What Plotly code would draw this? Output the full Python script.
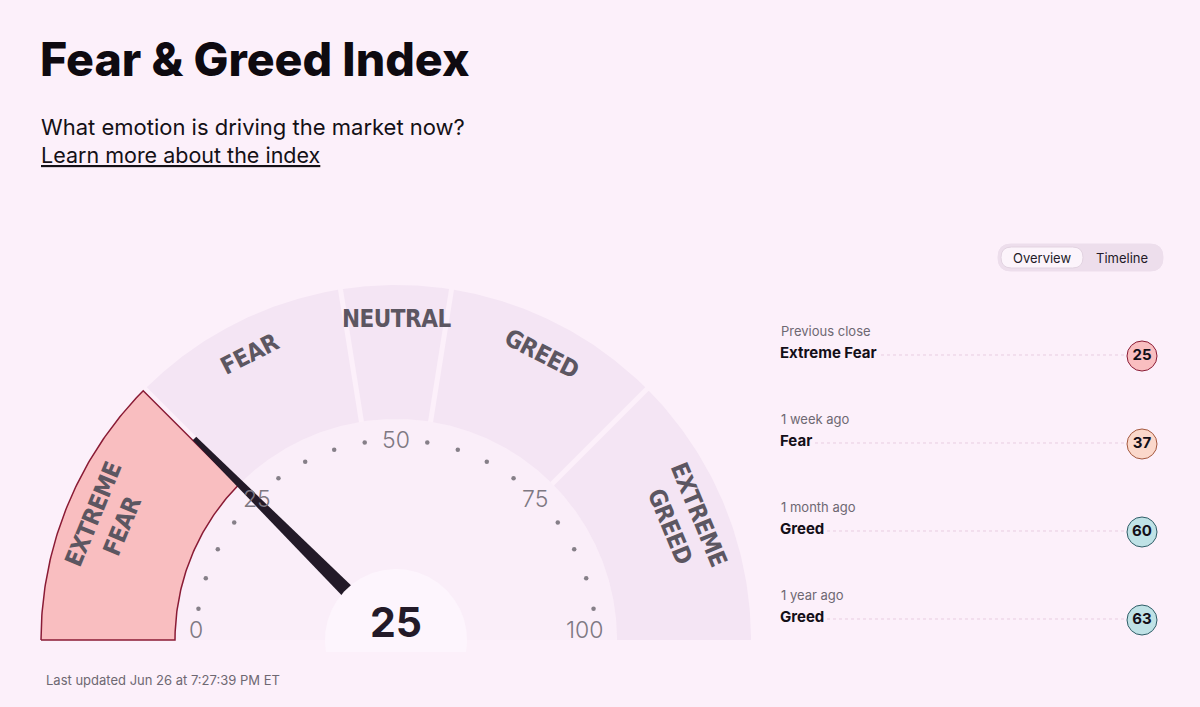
import numpy as np
import plotly.graph_objects as go

# ---------------- data ----------------
current_value = 25
current_rating = "Extreme Fear"
zone_names = ["EXTREME<br>FEAR", "FEAR", "NEUTRAL", "GREED", "EXTREME<br>GREED"]
zone_keys = ["Extreme Fear", "Fear", "Neutral", "Greed", "Extreme Greed"]
zone_bounds = [0, 25, 45, 55, 75, 100]
tick_labels = [0, 25, 50, 75, 100]
history_labels = ["Previous close", "1 week ago", "1 month ago", "1 year ago"]
history_ratings = ["Extreme Fear", "Fear", "Greed", "Greed"]
history_values = [25, 37, 60, 63]
updated_text = "Last updated Jun 26 at 7:27:39 PM ET"

# ---------------- style ----------------
W, H = 1200, 707
CX, CY = 396, 640           # gauge pivot in page pixels
BG = "#FCF0FA"
SEG = "#F4E5F4"
INNER = "#FAEEF9"
CENTER = "#FDF5FD"
DARK = "#231A28"
GRAY = "#7E7882"
R_OUT, R_IN = 355, 221
rating_style = {
    "Extreme Fear": ("#F9BEC0", "#8A1B35"),
    "Fear": ("#FBD8CB", "#A4583E"),
    "Neutral": ("#E5E5E5", "#666666"),
    "Greed": ("#BFE2E6", "#2E5C66"),
    "Extreme Greed": ("#A9DCCB", "#1E5E48"),
}
ZONE_FONT = "DejaVu Sans"


def px(x, y):
    """page pixel -> data coords"""
    return x - CX, CY - y


def ang(v):
    return np.pi * (1 - v / 100.0)


fig = go.Figure()


def poly(xs, ys, fill, line_color=None, lw=0):
    fig.add_trace(go.Scatter(
        x=list(xs), y=list(ys), mode="lines", fill="toself", fillcolor=fill,
        line=dict(color=line_color or fill, width=lw), hoverinfo="skip",
        showlegend=False))


# inner disk
t = np.linspace(0, np.pi, 200)
poly(R_IN * np.cos(t), R_IN * np.sin(t), INNER)

# segments
gap = 2.5
for i, key in enumerate(zone_keys):
    v0, v1 = zone_bounds[i], zone_bounds[i + 1]
    a0, a1 = ang(v0), ang(v1)
    d_out0 = 0 if v0 == 0 else gap / R_OUT
    d_in0 = 0 if v0 == 0 else gap / R_IN
    d_out1 = 0 if v1 == 100 else gap / R_OUT
    d_in1 = 0 if v1 == 100 else gap / R_IN
    to = np.linspace(a0 - d_out0, a1 + d_out1, 80)
    ti = np.linspace(a1 + d_in1, a0 - d_in0, 80)
    xs = np.concatenate([R_OUT * np.cos(to), R_IN * np.cos(ti), [R_OUT * np.cos(to[0])]])
    ys = np.concatenate([R_OUT * np.sin(to), R_IN * np.sin(ti), [R_OUT * np.sin(to[0])]])
    if key == current_rating:
        fc, lc = rating_style[key]
        poly(xs, ys, fc, lc, 1.5)
    else:
        poly(xs, ys, SEG)

# dots every 5 (skip labelled ticks)
dv = [v for v in range(0, 101, 5) if v not in tick_labels]
fig.add_trace(go.Scatter(
    x=[200 * np.cos(ang(v)) for v in dv], y=[200 * np.sin(ang(v)) for v in dv],
    mode="markers", marker=dict(size=4.5, color="#857F88"), hoverinfo="skip",
    showlegend=False))

# needle
a = ang(current_value)
ux, uy = np.cos(a), np.sin(a)
nx, ny = -uy, ux
r_tip, r_base, w_tip, w_base = 285, 60, 2.5, 7.0
needle_x = [r_tip * ux + w_tip * nx, r_tip * ux - w_tip * nx,
            r_base * ux - w_base * nx, r_base * ux + w_base * nx, r_tip * ux + w_tip * nx]
needle_y = [r_tip * uy + w_tip * ny, r_tip * uy - w_tip * ny,
            r_base * uy - w_base * ny, r_base * uy + w_base * ny, r_tip * uy + w_tip * ny]
poly(needle_x, needle_y, DARK)

# center circle (clipped a little below the baseline)
clip = -12
tc = np.linspace(np.arcsin(clip / 71), np.pi - np.arcsin(clip / 71), 200)
poly(71 * np.cos(tc), 71 * np.sin(tc), CENTER)

ann = []
# tick labels
for v in tick_labels:
    c = np.cos(ang(v))
    if abs(c) > 0.9:
        r, xa = 209, ("right" if c > 0 else "left")
    else:
        r, xa = 197, "center"
    x, y = r * c, max(200 * np.sin(ang(v)), 10)
    ann.append(dict(x=x, y=y, xref="x", yref="y", text=str(v), showarrow=False,
                    font=dict(family="Inter", size=23, color=GRAY, weight=300),
                    xanchor=xa, yanchor="middle"))

# zone labels
for i, name in enumerate(zone_names):
    mid = (zone_bounds[i] + zone_bounds[i + 1]) / 2
    am = ang(mid)
    r = 312 if "<br>" in name else 321
    deg = np.degrees(am)
    txt = f"<span style='font-stretch:condensed;letter-spacing:-0.5px'>{name}</span>"
    ann.append(dict(x=r * np.cos(am), y=r * np.sin(am), xref="x", yref="y", text=txt,
                    showarrow=False, textangle=-(deg - 90),
                    font=dict(family=ZONE_FONT, size=24, color="#5C5661", weight=700),
                    xanchor="center", yanchor="middle"))

# center value
ann.append(dict(x=0, y=18, xref="x", yref="y", text=f"<b>{current_value}</b>", showarrow=False,
                font=dict(family="Inter", size=41, color=DARK, weight=800),
                xanchor="center", yanchor="middle"))


def pa(x, y, text, size, color, weight=400, xanchor="left", **kw):
    dx, dy = px(x, y)
    d = dict(x=dx, y=dy, xref="x", yref="y", text=text, showarrow=False,
             font=dict(family="Inter", size=size, color=color, weight=weight),
             xanchor=xanchor, yanchor="middle")
    d.update(kw)
    ann.append(d)


pa(38, 59, "Fear &amp; Greed Index", 46.5, "#0E0A10", 800)
pa(39, 127, "What emotion is driving the market now?", 22, "#141016")
pa(39, 155, "<u>Learn more about the index</u>", 21.5, "#141016")
pa(44, 680, updated_text, 13, "#6E6872")

# toggle
shapes = []


def rrect(x0, y0, x1, y1, r, fill, line=None):
    X0, Y0 = px(x0, y0)
    X1, Y1 = px(x1, y1)
    path = (f"M{X0 + r},{Y0} L{X1 - r},{Y0} Q{X1},{Y0} {X1},{Y0 - r} L{X1},{Y1 + r} "
            f"Q{X1},{Y1} {X1 - r},{Y1} L{X0 + r},{Y1} Q{X0},{Y1} {X0},{Y1 + r} "
            f"L{X0},{Y0 - r} Q{X0},{Y0} {X0 + r},{Y0} Z")
    shapes.append(dict(type="path", path=path, xref="x", yref="y", fillcolor=fill,
                       line=dict(color=line or fill, width=1), layer="above"))


rrect(998, 244, 1163, 271, 13, "#EDDEEC")
rrect(1001, 247, 1083, 268, 10.5, "#FCF4FB", "#E2D3E1")
pa(1042, 258, "Overview", 13, "#231A28", xanchor="center")
pa(1122, 258, "Timeline", 13, "#231A28", xanchor="center")

# history rows
row_y0, row_step = 331, 88
cx_hist = 1142
for k, (lab, rat, val) in enumerate(zip(history_labels, history_ratings, history_values)):
    y = row_y0 + k * row_step
    pa(779, y, lab, 13, "#6E6872")
    X0, Y0 = px(785, y + 24)
    X1, _ = px(cx_hist - 16, y + 24)
    shapes.append(dict(type="line", x0=X0, x1=X1, y0=Y0, y1=Y0, xref="x", yref="y",
                      line=dict(color="#E8CDE1", width=1, dash="dot"), layer="below"))
    pa(779, y + 21, f"<b>{rat}</b>", 15, "#140F18", bgcolor=BG, borderpad=0)
    fc, lc = rating_style[rat]
    mx, my = px(cx_hist, y + 25)
    fig.add_trace(go.Scatter(x=[mx], y=[my], mode="markers+text",
                             marker=dict(size=30, color=fc, line=dict(color=lc, width=1)),
                             text=[f"<b>{val}</b>"], textposition="middle center",
                             textfont=dict(family="Inter", size=15, color="#140F18"),
                             hoverinfo="skip", showlegend=False))

fig.update_layout(
    width=W, height=H, margin=dict(l=0, r=0, t=0, b=0),
    paper_bgcolor=BG, plot_bgcolor=BG,
    xaxis=dict(range=[-CX, W - CX], visible=False, fixedrange=True),
    yaxis=dict(range=[CY - H, CY], visible=False, fixedrange=True),
    annotations=ann, shapes=shapes, showlegend=False,
)
fig.write_html(
    "out.html", config={"displayModeBar": False},
    post_script=f"document.body.style.margin='0';document.body.style.background='{BG}';"
                "document.body.style.overflow='hidden';",
)
